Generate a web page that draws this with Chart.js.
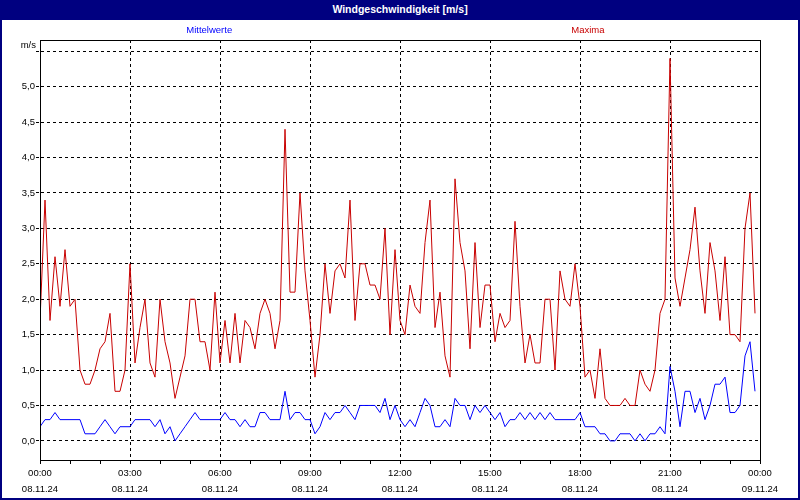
<!DOCTYPE html>
<html>
<head>
<meta charset="utf-8">
<title>Windgeschwindigkeit</title>
<script src="https://cdn.jsdelivr.net/npm/chart.js@4.4.0/dist/chart.umd.min.js"></script>
<style>
  body { margin: 0; background: #fff; }
  #wrap { position: relative; width: 800px; height: 500px; overflow: hidden; }
  #chartBox { position: absolute; left: 0; top: 0; width: 800px; height: 500px; }
  #frame {
    position: absolute; left: 0; top: 0; width: 800px; height: 500px;
    box-sizing: border-box; border: 2px solid #000080; border-top: 0;
    pointer-events: none;
  }
  #title {
    position: absolute; left: 0; top: 0; width: 800px; height: 20px;
    background: #000080; color: #fff; text-align: center;
    font: bold 10.5px "Liberation Sans", Arial, sans-serif; line-height: 19px;
  }
</style>
</head>
<body>
<div id="wrap">
  <div id="chartBox"><canvas id="windChart"></canvas></div>
  <div id="frame"></div>
  <div id="title">Windgeschwindigkeit [m/s]</div>
</div>
<script>
// Zeitachse: Beschriftung alle 3 Stunden
const timeLabels = ["00:00", "03:00", "06:00", "09:00", "12:00", "15:00", "18:00", "21:00", "00:00"];
const dateLabels = ["08.11.24", "08.11.24", "08.11.24", "08.11.24", "08.11.24", "08.11.24", "08.11.24", "08.11.24", "09.11.24"];
const yTickValues = [0, 0.5, 1, 1.5, 2, 2.5, 3, 3.5, 4, 4.5, 5, 5.5];

// 10-Minuten-Werte, 00:00 bis 23:50
const mittelwerte = [
  0.2, 0.3, 0.3, 0.4, 0.3, 0.3, 0.3, 0.3, 0.3, 0.1, 0.1, 0.1,
  0.2, 0.3, 0.2, 0.1, 0.2, 0.2, 0.2, 0.3, 0.3, 0.3, 0.3, 0.2,
  0.3, 0.1, 0.2, 0.0, 0.1, 0.2, 0.3, 0.4, 0.3, 0.3, 0.3, 0.3,
  0.3, 0.4, 0.3, 0.3, 0.2, 0.3, 0.2, 0.2, 0.4, 0.4, 0.3, 0.3,
  0.3, 0.7, 0.3, 0.4, 0.4, 0.3, 0.3, 0.1, 0.2, 0.4, 0.3, 0.4,
  0.4, 0.5, 0.4, 0.3, 0.5, 0.5, 0.5, 0.5, 0.4, 0.6, 0.3, 0.5,
  0.3, 0.2, 0.3, 0.2, 0.4, 0.6, 0.5, 0.2, 0.2, 0.3, 0.2, 0.6,
  0.5, 0.5, 0.3, 0.5, 0.4, 0.5, 0.4, 0.3, 0.4, 0.2, 0.3, 0.3,
  0.4, 0.3, 0.4, 0.3, 0.4, 0.3, 0.4, 0.3, 0.3, 0.3, 0.3, 0.3,
  0.4, 0.2, 0.2, 0.2, 0.1, 0.1, 0.0, 0.0, 0.1, 0.1, 0.1, 0.0,
  0.1, 0.0, 0.1, 0.1, 0.2, 0.1, 1.05, 0.7, 0.2, 0.7, 0.7, 0.4,
  0.6, 0.3, 0.5, 0.8, 0.8, 0.9, 0.4, 0.4, 0.5, 1.2, 1.4, 0.7
];
const maxima = [
  1.7, 3.4, 1.7, 2.6, 1.9, 2.7, 1.9, 2.0, 1.0, 0.8, 0.8, 1.0,
  1.3, 1.4, 1.8, 0.7, 0.7, 1.0, 2.5, 1.1, 1.6, 2.0, 1.1, 0.9,
  2.0, 1.4, 1.1, 0.6, 0.9, 1.2, 2.0, 2.0, 1.4, 1.4, 1.0, 2.1,
  1.1, 1.7, 1.1, 1.8, 1.1, 1.7, 1.6, 1.3, 1.8, 2.0, 1.8, 1.3,
  1.7, 4.4, 2.1, 2.1, 3.5, 2.4, 1.7, 0.9, 1.5, 2.5, 1.8, 2.4,
  2.5, 2.3, 3.4, 1.7, 2.5, 2.5, 2.2, 2.2, 2.0, 3.0, 1.5, 2.7,
  1.7, 1.5, 2.2, 1.9, 1.8, 2.8, 3.4, 1.6, 2.1, 1.2, 0.9, 3.7,
  2.8, 2.4, 1.3, 2.8, 1.6, 2.2, 2.2, 1.4, 1.8, 1.6, 1.7, 3.1,
  1.9, 1.1, 1.5, 1.1, 1.1, 2.0, 2.0, 1.0, 2.4, 2.0, 1.9, 2.5,
  1.9, 0.9, 1.0, 0.6, 1.3, 0.6, 0.5, 0.5, 0.5, 0.6, 0.5, 0.5,
  1.0, 0.8, 0.7, 1.0, 1.8, 2.0, 5.4, 2.3, 1.9, 2.3, 2.7, 3.3,
  2.4, 1.8, 2.8, 2.4, 1.7, 2.6, 1.5, 1.5, 1.4, 3.0, 3.5, 1.8
];

const FONT = "'Liberation Sans', Arial, sans-serif";
const STEPS_PER_LABEL = 18; // 3 h in 10-min-Schritten
const STEPS_PER_HOUR = 6;

const decorPlugin = {
  id: "decor",
  afterDraw(chart) {
    const { ctx, chartArea: a } = chart;
    ctx.save();
    ctx.strokeStyle = "#000";
    ctx.lineWidth = 1;
    ctx.strokeRect(Math.round(a.left) + 0.5, Math.round(a.top) + 0.5,
      Math.round(a.right - a.left), Math.round(a.bottom - a.top));

    ctx.font = "9.5px " + FONT;
    ctx.textBaseline = "middle";
    ctx.textAlign = "center";
    const w = a.right - a.left;
    ctx.fillStyle = "#0000ff";
    ctx.fillText("Mittelwerte", a.left + w * 0.235, 30);
    ctx.fillStyle = "#c80000";
    ctx.fillText("Maxima", a.left + w * 0.761, 30);

    ctx.fillStyle = "#000";
    ctx.textAlign = "right";
    ctx.fillText("m/s", a.left - 4, 45);
    ctx.restore();
  }
};

new Chart(document.getElementById("windChart"), {
  type: "line",
  data: {
    datasets: [
      {
        label: "Mittelwerte",
        data: mittelwerte.map((v, i) => ({ x: i, y: v })),
        borderColor: "#0000ff",
        borderWidth: 1,
        pointRadius: 0,
        tension: 0
      },
      {
        label: "Maxima",
        data: maxima.map((v, i) => ({ x: i, y: v })),
        borderColor: "#c80000",
        borderWidth: 1,
        pointRadius: 0,
        tension: 0
      }
    ]
  },
  options: {
    responsive: true,
    maintainAspectRatio: false,
    animation: false,
    events: [],
    layout: { padding: { top: 40, right: 40, left: 0, bottom: 0 } },
    plugins: {
      legend: { display: false },
      title: { display: false },
      tooltip: { enabled: false }
    },
    scales: {
      x: {
        type: "linear",
        min: 0,
        max: 144,
        afterBuildTicks: scale => {
          const ticks = [];
          for (let v = 0; v <= 144; v += STEPS_PER_HOUR) ticks.push({ value: v });
          scale.ticks = ticks;
        },
        afterFit: scale => { scale.height = 40; },
        grid: {
          color: c => (c.tick && c.tick.value % STEPS_PER_LABEL === 0) ? "#000" : "rgba(0,0,0,0)",
          tickColor: "#000",
          tickLength: 4,
          tickBorderDash: []
        },
        border: { color: "#000", dash: [3, 3] },
        ticks: {
          autoSkip: false,
          maxRotation: 0,
          minRotation: 0,
          padding: 1,
          color: "#000",
          font: { family: FONT, size: 9.5, lineHeight: "16px" },
          callback: value => {
            if (value % STEPS_PER_LABEL !== 0) return "";
            const k = value / STEPS_PER_LABEL;
            return [timeLabels[k], dateLabels[k]];
          }
        }
      },
      y: {
        type: "linear",
        min: -0.27,
        max: 5.66,
        afterBuildTicks: scale => {
          scale.ticks = yTickValues.map(v => ({ value: v }));
        },
        afterFit: scale => { scale.width = 40; },
        grid: {
          color: "#000",
          tickColor: "#000",
          tickLength: 4,
          tickBorderDash: [3, 3]
        },
        border: { color: "#000", dash: [3, 3] },
        ticks: {
          padding: 1,
          color: "#000",
          font: { family: FONT, size: 9.5 },
          callback: value => value === 5.5 ? "" : value.toFixed(1).replace(".", ",")
        }
      }
    }
  },
  plugins: [decorPlugin]
});
</script>
</body>
</html>
